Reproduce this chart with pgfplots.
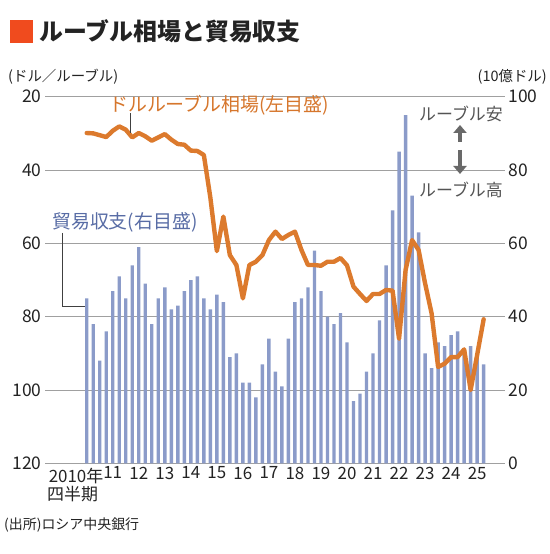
\documentclass[border=0pt]{standalone}
\usepackage{fontspec}
\setmainfont{Noto Sans CJK JP}
\usepackage{pgfplots}
\pgfplotsset{compat=1.18}
\usetikzlibrary{arrows.meta}
\definecolor{barc}{RGB}{139,155,201}
\definecolor{linec}{RGB}{220,122,45}
\definecolor{labo}{RGB}{214,118,44}
\definecolor{labb}{RGB}{88,108,165}
\definecolor{gridc}{RGB}{160,160,160}
\definecolor{sq}{RGB}{240,75,30}
\definecolor{txt}{RGB}{35,35,35}
\definecolor{arr}{RGB}{105,105,105}

\pgfplotstableread{
k v
0 45
1 38
2 28
3 36
4 47
5 51
6 45
7 54
8 59
9 49
10 38
11 45
12 48
13 42
14 43
15 47
16 50
17 51
18 45
19 42
20 46
21 44
22 29
23 30
24 22
25 22
26 18
27 27
28 34
29 25
30 21
31 34
32 44
33 45
34 48
35 58
36 47
37 40
38 38
39 41
40 33
41 17
42 19
43 25
44 30
45 39
46 54
47 69
48 85
49 95
50 73
51 63
52 30
53 26
54 33
55 32
56 35
57 36
58 30
59 32
60 29
61 27
}\trade

\pgfplotstableread{
k v
0 29.9
1 30.0
2 30.5
3 31.0
4 29.3
5 28.1
6 29.0
7 31.1
8 29.9
9 30.8
10 32.0
11 31.1
12 30.2
13 31.7
14 32.9
15 33.1
16 34.7
17 34.8
18 35.9
19 47.5
20 62.1
21 52.7
22 63.2
23 65.9
24 75.0
25 65.9
26 65.0
27 63.2
28 59.1
29 56.8
30 58.8
31 57.7
32 56.8
33 61.8
34 65.9
35 65.9
36 66.1
37 65.0
38 65.0
39 64.0
40 66.0
41 71.8
42 73.8
43 75.7
44 73.8
45 73.8
46 72.7
47 72.9
48 86.0
49 67.3
50 59.1
51 61.8
52 70.9
53 79.1
54 93.7
55 92.8
56 91.0
57 91.0
58 88.9
59 100.0
60 90.4
61 80.7
}\rub

\pgfplotsset{common/.style={
  at={(275bp,273.95bp)}, anchor=center, scale only axis,
  width=460bp, height=366.7bp,
  xmin=-6.41, xmax=64.28,
  axis line style={draw=none},
  major tick length=0pt,
  tick label style={font=\fontsize{17.5}{17.5}\selectfont, text=txt},
  /pgf/number format/assume math mode=true,
}}

\begin{document}
\begin{tikzpicture}
\path[use as bounding box] (0bp,0bp) rectangle (550bp,554bp);

% title
\fill[sq] (10bp,511bp) rectangle (33bp,534bp);
\node[anchor=west, inner sep=0pt, text=txt, font=\fontsize{24}{24}\selectfont\bfseries] at (39bp,522.5bp) {ルーブル相場と貿易収支};

% unit labels
\node[anchor=west, inner sep=0pt, text=txt, font=\fontsize{14.5}{14.5}\selectfont] at (8bp,477bp) {(ドル／ルーブル)};
\node[anchor=east, inner sep=0pt, text=txt, font=\fontsize{14.5}{14.5}\selectfont] at (547bp,477bp) {(10億ドル)};

\begin{axis}[common,
  ymin=0, ymax=100, ytick={0,20,...,100}, yticklabel pos=right,
  ymajorgrids, grid style={gridc, line width=0.9bp},
  xtick={4,8,12,16,20,24,28,32,36,40,44,48,52,56,60},
  xticklabels={11,12,13,14,15,16,17,18,19,20,21,22,23,24,25},
  x tick label style={font=\fontsize{17}{17}\selectfont},
]
\addplot[ybar, bar width=3.4bp, bar shift=0pt, fill=barc, draw=none] table[x=k,y=v] {\trade};
\end{axis}

\begin{axis}[common,
  ymin=20, ymax=120, y dir=reverse, ytick={20,40,...,120}, yticklabel pos=left,
  xtick=\empty,
]
\addplot[linec, line width=4.4bp, line join=round, line cap=round] table[x=k,y=v] {\rub};
\draw[black!75, line width=0.8bp] (axis cs:6.7,24.4) -- (axis cs:6.7,29.8);
\end{axis}

% annotations
\node[anchor=west, inner sep=0pt, text=labo, font=\fontsize{19}{19}\selectfont] at (109bp,449bp) {ドルルーブル相場(左目盛)};
\node[anchor=west, inner sep=0pt, text=labb, font=\fontsize{19}{19}\selectfont] at (52bp,332bp) {貿易収支(右目盛)};
\draw[black!75, line width=0.8bp] (62.7bp,321bp) -- (62.7bp,248bp) -- (85bp,248bp);

\node[anchor=west, inner sep=0pt, text=arr!80!black, font=\fontsize{17}{17}\selectfont] at (419bp,440bp) {ルーブル安};
\node[anchor=west, inner sep=0pt, text=arr!80!black, font=\fontsize{17}{17}\selectfont] at (419bp,364bp) {ルーブル高};
\draw[arr, line width=4bp, -{Triangle[length=8bp,width=13bp]}] (460bp,412bp) -- (460bp,429bp);
\draw[arr, line width=4bp, -{Triangle[length=8bp,width=13bp]}] (460bp,404bp) -- (460bp,380bp);

% x axis extra labels
\node[anchor=east, inner sep=0pt, text=txt, font=\fontsize{17}{17}\selectfont] at (103.5bp,78bp) {2010年};
\node[anchor=west, inner sep=0pt, text=txt, font=\fontsize{17}{17}\selectfont] at (47bp,60bp) {四半期};

% source
\node[anchor=west, inner sep=0pt, text=txt, font=\fontsize{14}{14}\selectfont] at (4bp,29bp) {(出所)ロシア中央銀行};
\end{tikzpicture}
\end{document}
